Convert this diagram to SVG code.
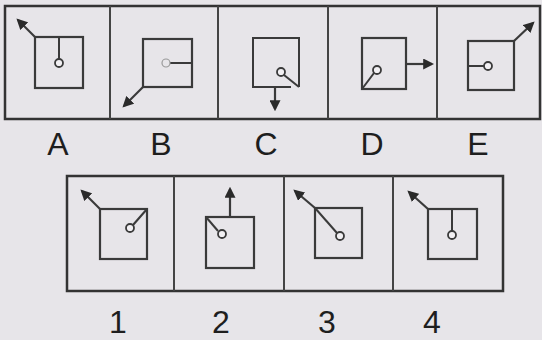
<svg xmlns="http://www.w3.org/2000/svg" width="542" height="340" viewBox="0 0 542 340">
<defs>
<marker id="ah" viewBox="0 0 10 10" refX="8" refY="5" markerWidth="11" markerHeight="11" markerUnits="userSpaceOnUse" orient="auto">
<path d="M0,0 L10,5 L0,10 z" fill="#2a2a2a"/>
</marker>
</defs>
<style>
.frame{fill:none;stroke:#333;stroke-width:2.5}
.div{fill:none;stroke:#444;stroke-width:2}
.sq{fill:none;stroke:#3a3a3a;stroke-width:2.2}
.ln{fill:none;stroke:#3a3a3a;stroke-width:2}
.arr{fill:none;stroke:#3a3a3a;stroke-width:2.2;marker-end:url(#ah)}
.dot{fill:#f2f0f3;stroke:#3a3a3a;stroke-width:1.8}
.lbl{font-family:"Liberation Sans",Arial,sans-serif;font-size:32px;fill:#1e1e1e;text-anchor:middle}
</style>
<rect width="542" height="340" fill="#e7e5e9"/>
<g id="top-frame">
<rect class="frame" x="5" y="6" width="535" height="113"/>
<line class="div" x1="110" y1="6" x2="110" y2="119"/>
<line class="div" x1="218" y1="6" x2="218" y2="119"/>
<line class="div" x1="328" y1="6" x2="328" y2="119"/>
<line class="div" x1="437" y1="6" x2="437" y2="119"/>
</g>
<g id="A">
<rect class="sq" x="35" y="37" width="48" height="51"/>
<line class="ln" x1="59" y1="37" x2="59" y2="59"/>
<circle class="dot" cx="59" cy="63" r="4"/>
<line class="arr" x1="35" y1="37" x2="18" y2="20"/>
</g>
<g id="B">
<rect class="sq" x="143" y="39" width="49" height="48"/>
<line class="ln" x1="192" y1="63" x2="170" y2="63"/>
<circle cx="166" cy="63" r="4" fill="none" stroke="#9a9a9a" stroke-width="1.2"/>
<line class="arr" x1="143" y1="87" x2="124" y2="106"/>
</g>
<g id="C">
<path class="ln" d="M291,87 L253,87 L253,38 L299,38 L299,87"/>
<line class="ln" x1="284" y1="75" x2="299" y2="87"/>
<circle class="dot" cx="281" cy="72" r="4"/>
<line class="arr" x1="275" y1="87" x2="275" y2="109"/>
</g>
<g id="D">
<rect class="sq" x="362" y="38" width="44" height="51"/>
<line class="ln" x1="362" y1="89" x2="374" y2="73"/>
<circle class="dot" cx="377" cy="70" r="4"/>
<line class="arr" x1="406" y1="64" x2="432" y2="64"/>
</g>
<g id="E">
<rect class="sq" x="468" y="41" width="46" height="49"/>
<line class="ln" x1="468" y1="66" x2="484" y2="66"/>
<circle class="dot" cx="488" cy="66" r="4"/>
<line class="arr" x1="514" y1="41" x2="533" y2="23"/>
</g>
<g id="labels-top">
<text class="lbl" x="58" y="155">A</text>
<text class="lbl" x="161" y="155">B</text>
<text class="lbl" x="266" y="155">C</text>
<text class="lbl" x="372" y="155">D</text>
<text class="lbl" x="478" y="155">E</text>
</g>
<g id="bottom-frame">
<rect class="frame" x="67" y="176" width="436" height="115"/>
<line class="div" x1="174" y1="176" x2="174" y2="291"/>
<line class="div" x1="284" y1="176" x2="284" y2="291"/>
<line class="div" x1="393" y1="176" x2="393" y2="291"/>
</g>
<g id="opt1">
<rect class="sq" x="100" y="209" width="47" height="50"/>
<line class="ln" x1="147" y1="209" x2="133" y2="225"/>
<circle class="dot" cx="130" cy="228" r="4"/>
<line class="arr" x1="100" y1="209" x2="82" y2="191"/>
</g>
<g id="opt2">
<rect class="sq" x="206" y="217" width="48" height="51"/>
<line class="ln" x1="206" y1="217" x2="218" y2="231"/>
<circle class="dot" cx="222" cy="234" r="4"/>
<line class="arr" x1="230" y1="217" x2="230" y2="189"/>
</g>
<g id="opt3">
<rect class="sq" x="315" y="208" width="47" height="50"/>
<line class="ln" x1="315" y1="208" x2="337" y2="233"/>
<circle class="dot" cx="340" cy="236" r="4"/>
<line class="arr" x1="315" y1="208" x2="295" y2="191"/>
</g>
<g id="opt4">
<rect class="sq" x="428" y="209" width="49" height="50"/>
<line class="ln" x1="452" y1="209" x2="452" y2="231"/>
<circle class="dot" cx="452" cy="235" r="4"/>
<line class="arr" x1="428" y1="209" x2="409" y2="192"/>
</g>
<g id="labels-bottom">
<text class="lbl" x="118" y="333">1</text>
<text class="lbl" x="221" y="333">2</text>
<text class="lbl" x="327" y="333">3</text>
<text class="lbl" x="432" y="333">4</text>
</g>
</svg>
